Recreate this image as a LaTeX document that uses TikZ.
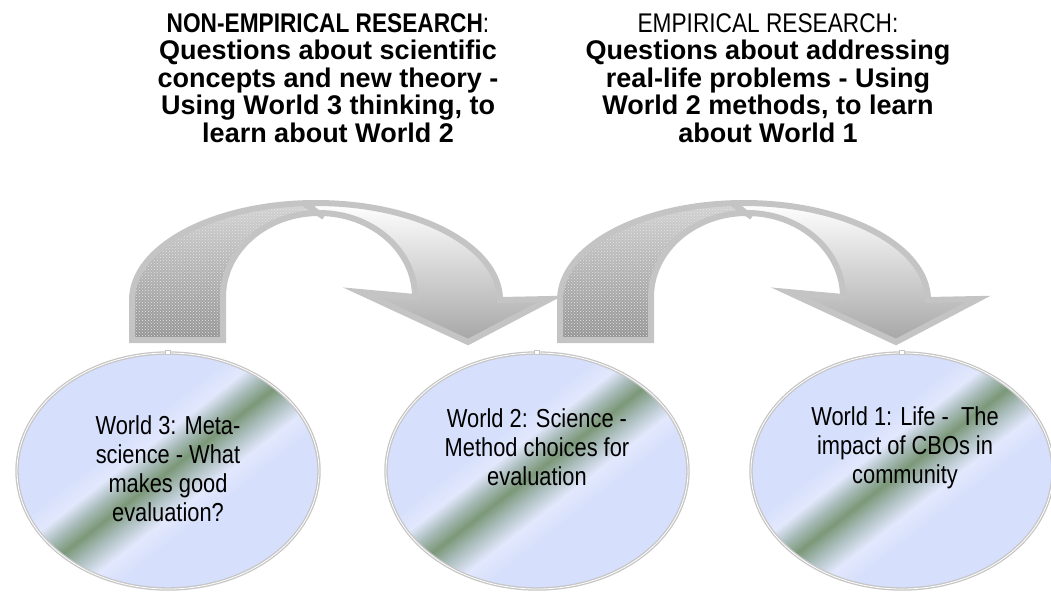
\documentclass[tikz,border=0pt]{standalone}
\usepackage{fontspec}
\setmainfont{Liberation Sans}
\newfontfamily\narrowfont[FakeStretch=0.84]{Liberation Sans}
\usetikzlibrary{shapes.geometric,patterns}

\definecolor{ellblue}{HTML}{D6DFFB}
\definecolor{ellrim}{HTML}{AEB6E6}
\definecolor{ellpale}{HTML}{E2E8FD}
\definecolor{ellgreen}{HTML}{7B9878}
\definecolor{ribbonline}{HTML}{C4C4C4}

\pgfdeclarehorizontalshading{worldshade}{100bp}{color(0bp)=(ellrim); color(20bp)=(ellblue); color(40bp)=(ellblue); color(44bp)=(ellpale); color(47bp)=(ellgreen!50!ellblue); color(50bp)=(ellgreen); color(53bp)=(ellgreen!50!ellblue); color(57bp)=(ellpale); color(61bp)=(ellblue); color(80bp)=(ellblue); color(100bp)=(ellrim)}

% outline of one curved ribbon arrow (pixel units)
\newcommand{\ribbon}{(132,340) -- (132,300) arc[start angle=180, end angle=360, x radius=184, y radius=97] -- (550,299) -- (468,342) -- (360,292) -- (415,297) arc[start angle=360, end angle=180, x radius=96, y radius=84] -- (223,340) -- cycle}

\begin{document}
\begin{tikzpicture}[x=1pt,y=-1pt]
  \tikzset{world/.style={ellipse,
      minimum width=302pt,
      minimum height=236pt,
      inner sep=0pt,
      shading=worldshade,
      shading angle=-52,
      draw=gray!45,
      double=white,
      double distance=0.8pt,
      line width=1.3pt},
    handle/.style={draw=gray!45, fill=white, line width=0.6pt, minimum width=5pt, minimum height=4pt, inner sep=0pt},
    worldtext/.style={align=center, font=\narrowfont\fontsize{26}{29}\selectfont},
    heading/.style={align=center, font=\bfseries\fontsize{27}{27.5}\selectfont}
  }
  \useasboundingbox (0,0) rectangle (1051,595);

  % curved arrows
  \foreach \dx in {0,428}{
    \begin{scope}[shift={(\dx,0)}]
      \begin{scope}
        \clip (100,190) -- (304,190) -- (326,222) -- (326,350) -- (100,350) -- cycle;
        \shade[top color=gray!35, bottom color=gray!85] \ribbon;
        \fill[pattern=crosshatch dots, pattern color=gray!20] \ribbon;
      \end{scope}
      \begin{scope}
        \clip (304,190) -- (326,222) -- (326,350) -- (600,350) -- (600,190) -- cycle;
        \shade[top color=white, bottom color=gray!70] \ribbon;
      \end{scope}
      \draw[ribbonline, line width=6pt] (305,204) -- (324,217);
      \draw[ribbonline, line width=6pt, line join=miter] \ribbon;
    \end{scope}
  }

  % the three worlds
  \node[world] (w3) at (168,471) {};
  \node[world] (w2) at (537,471) {};
  \node[world] (w1) at (902,471) {};
  \node[handle] at (w3.north) {};
  \node[handle] at (w2.north) {};
  \node[handle] at (w1.north) {};

  \node[worldtext] (w3text) at (168,469) {World 3: Meta-\\science - What\\makes good\\evaluation?};
  \node[worldtext] (w2text) at (537,447) {World 2: Science -\\Method choices for\\evaluation};
  \node[worldtext] (w1text) at (905,448) {World 1: Life - \ The\\impact of CBOs in\\community};

  % headings
  \node[heading] (nonemp) at (328,78) {{\narrowfont NON-EMPIRICAL RESEARCH\mdseries:}\\Questions about scientific\\concepts and new theory -\\Using World 3 thinking, to\\learn about World 2};
  \node[heading] (emp) at (768,78) {{\narrowfont\mdseries EMPIRICAL RESEARCH:}\\Questions about addressing\\real-life problems - Using\\World 2 methods, to learn\\about World 1};
\end{tikzpicture}
\end{document}
